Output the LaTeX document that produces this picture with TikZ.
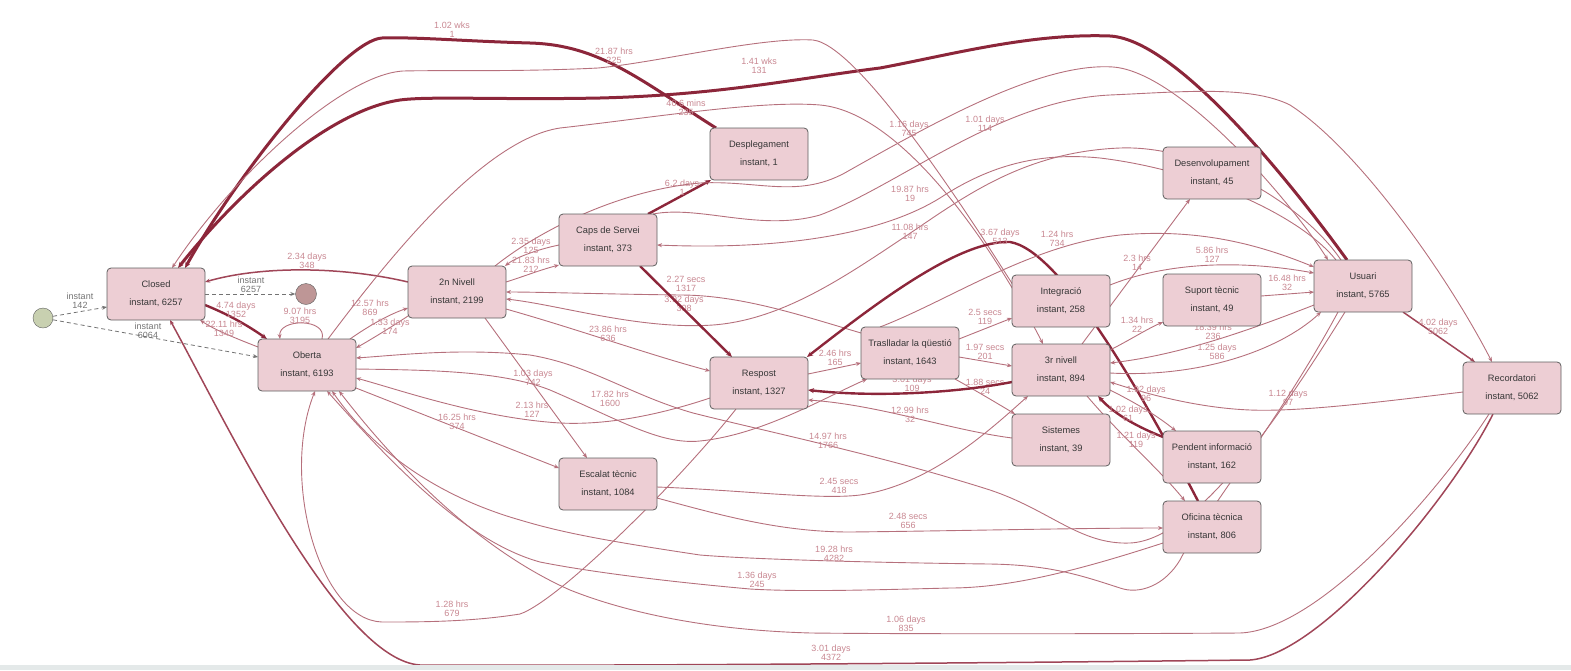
\documentclass[tikz,border=0pt]{standalone}
\usepackage{fontspec}
\setmainfont{Liberation Sans}
\usetikzlibrary{arrows.meta,backgrounds}
\definecolor{nodefill}{RGB}{237,206,212}
\definecolor{nodeborder}{RGB}{95,95,95}
\definecolor{nodetext}{RGB}{55,55,55}
\definecolor{edgethin}{RGB}{182,112,124}
\definecolor{edgemid}{RGB}{160,70,88}
\definecolor{edgethick}{RGB}{140,38,58}
\definecolor{lblcol}{RGB}{200,135,145}
\definecolor{graylbl}{RGB}{115,115,115}
\definecolor{startfill}{RGB}{200,208,176}
\definecolor{endfill}{RGB}{190,150,150}
\definecolor{stripcol}{RGB}{228,233,233}
\tikzset{
 box/.style={draw=nodeborder, line width=0.8pt, fill=nodefill, rounded corners=4pt,
   minimum width=98pt, minimum height=52pt, inner sep=0pt, align=center,
   font=\fontsize{9.3}{18}\selectfont, text=nodetext},
 edg/.style={draw=edgethin, line width=0.9pt, -{Stealth[length=5pt,width=4pt]}},
 edgm/.style={edg, draw=edgemid, line width=1.5pt},
 edgt/.style={edg, draw=edgethick, line width=2.4pt, -{Stealth[length=6pt,width=5pt]}},
 edgx/.style={edgt, line width=3pt},
 edgd/.style={draw=graylbl, line width=0.8pt, dash pattern=on 4pt off 3pt, -{Stealth[length=5pt,width=4pt]}},
 lbl/.style={text=lblcol, font=\fontsize{9}{9}\selectfont, align=center, inner sep=0pt},
 glbl/.style={lbl, text=graylbl},
}
\begin{document}
\begin{tikzpicture}[x=1pt,y=-1pt]
\useasboundingbox (0,0) rectangle (1571,670);
\fill[stripcol] (0,665) rectangle (1571,670);
% nodes
\node[circle, draw=nodeborder, fill=startfill, minimum size=20pt, inner sep=0pt] (start) at (43,318) {};
\node[circle, draw=nodeborder, fill=endfill, minimum size=21pt, inner sep=0pt] (endc) at (306,294) {};
\node[box] (Closed) at (156,294) {Closed\\instant, 6257};
\node[box] (Oberta) at (307,365) {Oberta\\instant, 6193};
\node[box] (N2) at (457,292) {2n Nivell\\instant, 2199};
\node[box] (Caps) at (608,240) {Caps de Servei\\instant, 373};
\node[box] (Despl) at (759,154) {Desplegament\\instant, 1};
\node[box] (Desenv) at (1212,173) {Desenvolupament\\instant, 45};
\node[box] (Usuari) at (1363,286) {Usuari\\instant, 5765};
\node[box] (Suport) at (1212,300) {Suport tècnic\\instant, 49};
\node[box] (Integ) at (1061,301) {Integració\\instant, 258};
\node[box] (N3) at (1061,370) {3r nivell\\instant, 894};
\node[box] (Trasl) at (910,353) {Traslladar la qüestió\\instant, 1643};
\node[box] (Respost) at (759,383) {Respost\\instant, 1327};
\node[box] (Sist) at (1061,440) {Sistemes\\instant, 39};
\node[box] (Pendent) at (1212,457) {Pendent informació\\instant, 162};
\node[box] (Oficina) at (1212,527) {Oficina tècnica\\instant, 806};
\node[box] (Record) at (1512,388) {Recordatori\\instant, 5062};
\node[box] (Escalat) at (608,484) {Escalat tècnic\\instant, 1084};
\begin{pgfonlayer}{background}
% start / end
\draw[edgd] (start) -- ([shift={(-49,13)}]Closed.center);
\node[glbl] (Lsc) at (80,300.5) {instant\\142};
\draw[edgd] (start) -- ([shift={(-49,-8)}]Oberta.center);
\node[glbl] (Lso) at (148,331) {instant\\6064};
\draw[edgd] ([shift={(49,0)}]Closed.center) -- (endc);
\node[glbl] (Lce) at (251,284.5) {instant\\6257};
% Closed / Oberta
\draw[edgt] ([shift={(49,11)}]Closed.center) .. controls (230,315) and (250,327) .. ([shift={(-40,-26)}]Oberta.center);
\node[lbl] (L474) at (236,310) {4.74 days\\1352};
\draw[edg] ([shift={(-49,-18)}]Oberta.center) .. controls (235,338) and (215,330) .. ([shift={(44,26)}]Closed.center);
\node[lbl] (L2211) at (224,329) {22.11 hrs\\1349};
\draw[edg] ([shift={(15,-26)}]Oberta.center) .. controls (328,318) and (278,318) .. ([shift={(-27,-26)}]Oberta.center);
\node[lbl] (L907) at (300,315.5) {9.07 hrs\\3195};
\draw[edgm] ([shift={(-49,-10)}]N2.center) .. controls (340,266) and (260,266) .. ([shift={(49,-12)}]Closed.center);
\node[lbl] (L234) at (307,260.5) {2.34 days\\348};
\draw[edg] ([shift={(43,-26)}]Oberta.center) .. controls (370,325) and (390,314) .. ([shift={(-49,16)}]N2.center);
\node[lbl] (L1257) at (370,307.5) {12.57 hrs\\869};
\draw[edg] ([shift={(-46,22)}]N2.center) .. controls (390,328) and (370,340) .. ([shift={(49,-17)}]Oberta.center);
\node[lbl] (L133) at (390,327) {1.33 days\\174};
% 2n Nivell / Caps
\draw[edg] ([shift={(-49,5)}]Caps.center) .. controls (535,250) and (515,258) .. ([shift={(48,-26)}]N2.center);
\node[lbl] (L235) at (531,245.5) {2.35 days\\125};
\draw[edg] ([shift={(49,-10)}]N2.center) .. controls (525,276) and (540,270) .. ([shift={(-49,25)}]Caps.center);
\node[lbl] (L2183) at (531,265) {21.83 hrs\\212};
\draw[edgt] ([shift={(40,-26)}]Caps.center) -- ([shift={(-48,26)}]Despl.center);
\node[lbl] (L62) at (682,187.5) {6.2 days\\1};
% top arcs to Closed
\draw[edgx] ([shift={(-43,-26)}]Despl.center) .. controls (640,80) and (600,45) .. (530,43) .. controls (460,41) and (420,37) .. (382,38) .. controls (345,40) and (240,170) .. ([shift={(29,-26)}]Closed.center);
\node[lbl] (L102w) at (452,29.5) {1.02 wks\\1};
\draw[edgx] ([shift={(-16,-26)}]Usuari.center) .. controls (1300,195) and (1180,40) .. (1110,36) .. controls (1030,33) and (950,55) .. (880,68) .. controls (800,78) and (720,95) .. (600,98) .. controls (500,100) and (430,96) .. (400,100) .. controls (330,110) and (240,190) .. ([shift={(22,-26)}]Closed.center);
\node[lbl] (L141w) at (759,65.5) {1.41 wks\\131};
\draw[edg] ([shift={(-48,-16)}]Integ.center) .. controls (975,225) and (860,45) .. (813,40) .. controls (760,37) and (660,62) .. (598,68) .. controls (520,72) and (440,70) .. (403,71) .. controls (340,75) and (230,180) .. ([shift={(16,-26)}]Closed.center);
\node[lbl] (L2187) at (614,55.5) {21.87 hrs\\225};
\draw[edg] ([shift={(21,-26)}]Oberta.center) .. controls (380,270) and (480,140) .. (560,128) .. controls (650,118) and (760,100) .. (820,105) .. controls (900,112) and (990,240) .. ([shift={(-18,-26)}]N3.center);
\node[lbl] (L406) at (686,107.5) {40.6 mins\\235};
\draw[edg] ([shift={(38,-26)}]N2.center) .. controls (540,230) and (620,190) .. (700,183) .. controls (760,180) and (800,200) .. (850,170) .. controls (930,125) and (1040,62) .. (1113,67) .. controls (1180,72) and (1290,200) .. ([shift={(-35,-26)}]Usuari.center);
\node[lbl] (L116) at (909,128.5) {1.16 days\\745};
\draw[edg] ([shift={(45,-26)}]Caps.center) .. controls (700,205) and (760,232) .. (820,215) .. controls (900,185) and (1000,100) .. (1110,95) .. controls (1180,92) and (1250,85) .. (1290,105) .. controls (1360,150) and (1450,280) .. ([shift={(-20,-26)}]Record.center);
\node[lbl] (L101) at (985,123.5) {1.01 days\\114};
\draw[edg] ([shift={(-27,-26)}]Usuari.center) .. controls (1300,215) and (1200,170) .. (1100,158) .. controls (1040,152) and (990,165) .. (940,198) .. controls (880,235) and (780,250) .. ([shift={(49,5)}]Caps.center);
\node[lbl] (L1987) at (910,193.5) {19.87 hrs\\19};
\draw[edg] ([shift={(-22,-26)}]Usuari.center) .. controls (1300,200) and (1200,145) .. (1120,148) .. controls (1020,152) and (960,200) .. (900,240) .. controls (840,280) and (780,320) .. (713,325) .. controls (640,330) and (560,305) .. ([shift={(49,7)}]N2.center);
\node[lbl] (L1108) at (910,231.5) {11.08 hrs\\147};
\draw[edg] ([shift={(-49,-20)}]Trasl.center) .. controls (800,315) and (740,295) .. (680,295) .. controls (600,294) and (540,292) .. ([shift={(49,0)}]N2.center);
\node[lbl] (L392) at (684,304) {3.92 days\\308};
% Respost region
\draw[edgt] ([shift={(32,26)}]Caps.center) -- ([shift={(-27,-26)}]Respost.center);
\node[lbl] (L227) at (686,284) {2.27 secs\\1317};
\draw[edg] ([shift={(49,17)}]N2.center) .. controls (580,330) and (650,355) .. ([shift={(-49,-12)}]Respost.center);
\node[lbl] (L2386) at (608,333.5) {23.86 hrs\\636};
\draw[edgt] ([shift={(-14,-26)}]Oficina.center) .. controls (1140,390) and (1060,250) .. (1010,242) .. controls (960,240) and (880,300) .. ([shift={(48,-26)}]Respost.center);
\node[lbl] (L367) at (1000,236.5) {3.67 days\\513};
\draw[edg] ([shift={(-30,-26)}]Trasl.center) .. controls (950,300) and (1030,245) .. (1120,235) .. controls (1200,228) and (1260,245) .. ([shift={(-49,-19)}]Usuari.center);
\node[lbl] (L124) at (1057,238.5) {1.24 hrs\\734};
\draw[edg] ([shift={(49,-16)}]Integ.center) .. controls (1160,265) and (1230,258) .. ([shift={(-49,-13)}]Usuari.center);
\node[lbl] (L586h) at (1212,254.5) {5.86 hrs\\127};
\draw[edg] ([shift={(21,-26)}]N3.center) -- ([shift={(-22,26)}]Desenv.center);
\node[lbl] (L23) at (1137,262.5) {2.3 hrs\\14};
\draw[edg] ([shift={(49,-4)}]Suport.center) -- ([shift={(-49,6)}]Usuari.center);
\node[lbl] (L1648) at (1287,282.5) {16.48 hrs\\32};
\draw[edg] ([shift={(49,-20)}]N3.center) .. controls (1130,340) and (1145,330) .. ([shift={(-49,22)}]Suport.center);
\node[lbl] (L134) at (1137,325) {1.34 hrs\\22};
\draw[edg] ([shift={(-49,19)}]Usuari.center) .. controls (1250,330) and (1180,355) .. ([shift={(49,-7)}]N3.center);
\node[lbl] (L1839) at (1213,331.5) {18.39 hrs\\236};
\draw[edg] ([shift={(49,3)}]N3.center) .. controls (1200,378) and (1280,350) .. ([shift={(-42,26)}]Usuari.center);
\node[lbl] (L125) at (1217,351.5) {1.25 days\\586};
\draw[edgm] ([shift={(40,26)}]Usuari.center) -- ([shift={(-37,-26)}]Record.center);
\node[lbl] (L402) at (1438,326.5) {4.02 days\\5062};
\draw[edg] ([shift={(-49,4)}]Record.center) .. controls (1380,402) and (1300,412) .. (1250,410) .. controls (1200,408) and (1150,395) .. ([shift={(49,12)}]N3.center);
\node[lbl] (L112) at (1288,397.5) {1.12 days\\97};
\draw[edg] ([shift={(49,20)}]N3.center) .. controls (1140,405) and (1160,418) .. ([shift={(-36,-26)}]Pendent.center);
\node[lbl] (L192) at (1146,394) {1.92 days\\96};
\draw[edgt] ([shift={(-49,-20)}]Pendent.center) .. controls (1140,428) and (1115,415) .. ([shift={(37,26)}]N3.center);
\node[lbl] (L102d) at (1128,414) {1.02 days\\61};
\draw[edg] ([shift={(26,26)}]N3.center) .. controls (1120,435) and (1160,470) .. ([shift={(-27,-26)}]Oficina.center);
\node[lbl] (L121) at (1136,440) {1.21 days\\119};
\draw[edg] ([shift={(49,-14)}]Trasl.center) -- ([shift={(-49,17)}]Integ.center);
\node[lbl] (L25s) at (985,316.5) {2.5 secs\\119};
\draw[edg] ([shift={(49,4)}]Trasl.center) -- ([shift={(-49,-4)}]N3.center);
\node[lbl] (L197) at (985,351.5) {1.97 secs\\201};
\draw[edg] ([shift={(45,26)}]Trasl.center) .. controls (980,393) and (1000,405) .. ([shift={(-46,-26)}]Sist.center);
\node[lbl] (L188) at (985,386.5) {1.88 secs\\24};
\draw[edg] ([shift={(49,-9)}]Respost.center) -- ([shift={(-49,10)}]Trasl.center);
\node[lbl] (L246) at (835,357.5) {2.46 hrs\\165};
\draw[edgt] ([shift={(-49,12)}]N3.center) .. controls (950,394) and (870,397) .. ([shift={(49,7)}]Respost.center);
\node[lbl] (L301b) at (912,383.5) {3.01 days\\109};
\draw[edg] ([shift={(-49,-2)}]Sist.center) .. controls (950,430) and (880,405) .. ([shift={(49,17)}]Respost.center);
\node[lbl] (L1299) at (910,414.5) {12.99 hrs\\32};
% Escalat
\draw[edg] ([shift={(49,3)}]Escalat.center) .. controls (740,490) and (820,500) .. (860,495) .. controls (930,485) and (990,430) .. ([shift={(-33,26)}]N3.center);
\node[lbl] (L245s) at (839,485.5) {2.45 secs\\418};
\draw[edg] ([shift={(49,14)}]Escalat.center) .. controls (720,515) and (780,532) .. (850,532) .. controls (950,531) and (1080,528) .. ([shift={(-49,1)}]Oficina.center);
\node[lbl] (L248) at (908,520.5) {2.48 secs\\656};
\draw[edg] ([shift={(28,26)}]N2.center) -- ([shift={(-21,-26)}]Escalat.center);
\node[lbl] (L103) at (533,377.5) {1.03 days\\742};
\draw[edg] ([shift={(49,23)}]Oberta.center) -- ([shift={(-49,-16)}]Escalat.center);
\node[lbl] (L1625) at (457,421.5) {16.25 hrs\\374};
% back to Oberta
\draw[edg] ([shift={(-49,15)}]Respost.center) .. controls (650,418) and (600,425) .. (560,423) .. controls (480,418) and (400,390) .. ([shift={(49,13)}]Oberta.center);
\node[lbl] (L213) at (532,409.5) {2.13 hrs\\127};
\draw[edg] ([shift={(49,4)}]Oberta.center) .. controls (420,370) and (500,370) .. (550,390) .. controls (620,420) and (660,445) .. (700,441) .. controls (760,435) and (820,400) .. ([shift={(-43,26)}]Trasl.center);
\node[lbl] (L1782) at (610,398.5) {17.82 hrs\\1600};
\draw[edg] ([shift={(-18,26)}]Usuari.center) .. controls (1290,400) and (1200,540) .. (1130,543) .. controls (1080,545) and (1050,510) .. (990,490) .. controls (880,455) and (760,430) .. (693,413) .. controls (630,395) and (590,365) .. (530,355) .. controls (460,348) and (400,355) .. ([shift={(49,-7)}]Oberta.center);
\node[lbl] (L1497) at (828,440.5) {14.97 hrs\\1766};
\draw[edg] ([shift={(-25,26)}]Usuari.center) .. controls (1280,420) and (1200,520) .. (1180,560) .. controls (1165,585) and (1140,595) .. (1120,588) .. controls (1080,575) and (1050,565) .. (990,564) .. controls (900,563) and (760,560) .. (700,555) .. controls (600,540) and (560,532) .. (520,520) .. controls (450,500) and (380,460) .. ([shift={(25,26)}]Oberta.center);
\node[lbl] (L1928) at (834,553.5) {19.28 hrs\\4282};
\draw[edg] ([shift={(-49,16)}]Oficina.center) .. controls (1080,570) and (1010,588) .. (950,588) .. controls (870,590) and (800,592) .. (750,589) .. controls (650,580) and (580,570) .. (540,562) .. controls (460,540) and (380,450) .. ([shift={(20,26)}]Oberta.center);
\node[lbl] (L136) at (757,579.5) {1.36 days\\245};
\draw[edg] ([shift={(-23,26)}]Respost.center) .. controls (680,480) and (560,600) .. (520,614) .. controls (470,622) and (420,622) .. (382,622) .. controls (320,620) and (280,480) .. ([shift={(8,26)}]Oberta.center);
\node[lbl] (L128) at (452,608.5) {1.28 hrs\\679};
\draw[edg] ([shift={(-23,26)}]Record.center) .. controls (1440,490) and (1320,630) .. (1240,633) .. controls (1100,634) and (900,634) .. (811,633) .. controls (700,630) and (620,610) .. (570,590) .. controls (480,550) and (400,470) .. ([shift={(32,26)}]Oberta.center);
\node[lbl] (L106) at (906,623.5) {1.06 days\\835};
\draw[edgm] ([shift={(-19,26)}]Record.center) .. controls (1450,500) and (1320,655) .. (1250,660) .. controls (1000,663) and (600,666) .. (420,665) .. controls (340,660) and (230,430) .. ([shift={(14,26)}]Closed.center);
\node[lbl] (L301c) at (831,652.5) {3.01 days\\4372};
\end{pgfonlayer}
\end{tikzpicture}
\end{document}
